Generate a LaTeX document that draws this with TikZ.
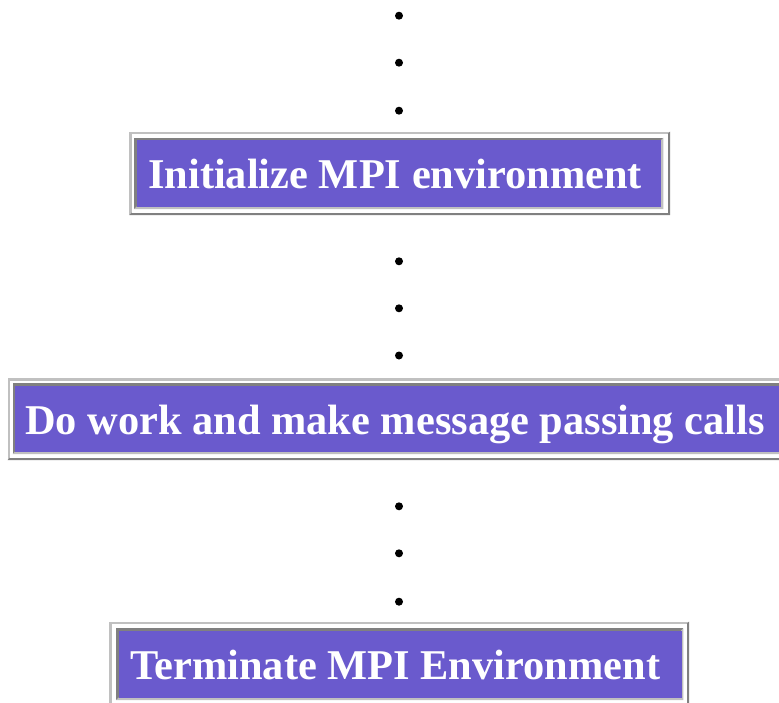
\documentclass[tikz,border=0pt]{standalone}
\usepackage{fontspec}
\setmainfont{Liberation Serif}
\definecolor{slate}{HTML}{6A5ACD}
\definecolor{bevlight}{HTML}{C0C0C0}
\definecolor{bevdark}{HTML}{808080}
\newcommand\bevelbox[6]{%
  \fill[#5] (#1,#2) rectangle (#3,#4);
  \fill[#6] (#3,#2) -- (#3,#4) -- (#1,#4) -- (#1+2.3,#4-2.3) -- (#3-2.3,#4-2.3) -- (#3-2.3,#2+2.3) -- cycle;
}
\tikzset{
  lbl/.style={text=white, font=\fontsize{42.4}{50}\selectfont\bfseries, inner sep=0pt, anchor=base west},
  dotmark/.style={circle, fill=black, inner sep=0pt, minimum size=8pt},
}
\begin{document}
\begin{tikzpicture}[x=1pt,y=-1pt]
\useasboundingbox[fill=white] (0,0) rectangle (779,702);
% dots
\foreach \n/\yy in {a/15.7,b/62.7,c/110.7,d/261.3,e/308.3,f/355.5,g/506.3,h/553.3,i/601.7}
  \node[dotmark] (dot\n) at (399,\yy) {};
% box 1
\bevelbox{129.3}{131.7}{670}{215}{bevlight}{bevdark}
\fill[white] (131.6,134) rectangle (667.7,212.7);
\bevelbox{134}{137.7}{663.3}{209}{bevdark}{bevlight}
\node[fill=slate, inner sep=0pt, anchor=north west, minimum width=524.7pt, minimum height=66.7pt] (cell1) at (136.3,140) {};
\node[lbl] (t1) at (148,188.3) {Initialize MPI environment};
% box 2
\bevelbox{7.7}{378.3}{790}{460}{bevlight}{bevdark}
\fill[white] (10,380.6) rectangle (787.7,457.7);
\bevelbox{12.7}{383.3}{785}{454}{bevdark}{bevlight}
\node[fill=slate, inner sep=0pt, anchor=north west, minimum width=770pt, minimum height=66.4pt] (cell2) at (15,385.6) {};
\node[lbl] (t2) at (25,434) {Do work and make message passing calls};
% box 3
\bevelbox{109.3}{621.7}{689}{706}{bevlight}{bevdark}
\fill[white] (111.6,624) rectangle (686.7,703.7);
\bevelbox{116}{628.3}{683.3}{700}{bevdark}{bevlight}
\node[fill=slate, inner sep=0pt, anchor=north west, minimum width=563pt, minimum height=67.1pt] (cell3) at (118.3,630.6) {};
\node[lbl] (t3) at (130,679) {Terminate MPI Environment};
\end{tikzpicture}
\end{document}
